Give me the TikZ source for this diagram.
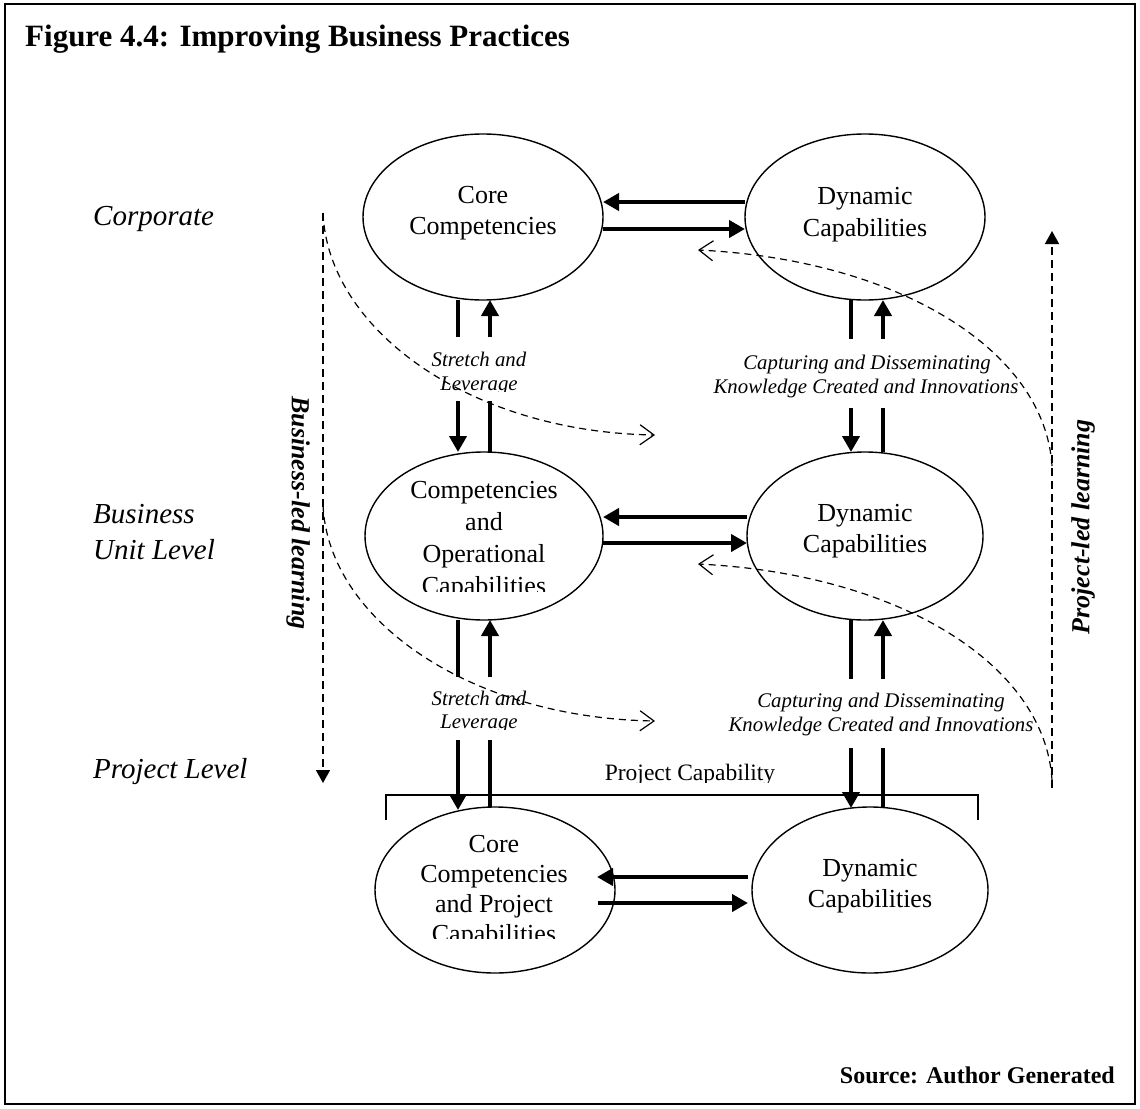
\documentclass[tikz,border=0pt]{standalone}
\usepackage{fontspec}
\setmainfont{Liberation Serif}
\usetikzlibrary{arrows.meta,shapes.geometric}
\begin{document}
\begin{tikzpicture}[x=1pt,y=-1pt,
  ell/.style={draw, ellipse, line width=1.4pt, inner sep=0pt, outer sep=0pt},
  etext/.style={font=\fontsize{26}{31}\selectfont, anchor=base, inner sep=0pt},
  lab/.style={font=\fontsize{20.8}{24}\selectfont\itshape, anchor=base, inner sep=0pt},
  lvl/.style={font=\fontsize{29}{36}\selectfont\itshape, anchor=base west, inner sep=0pt},
  rlab/.style={font=\fontsize{26}{30}\selectfont\bfseries\itshape, inner sep=0pt},
  bigarrow/.style={line width=4.2pt, -{Triangle[length=16pt,width=17pt]}},
  bigline/.style={line width=4.2pt},
  dashline/.style={line width=1.5pt, dash pattern=on 8pt off 5pt},
  dasharr/.style={dashline, -{Triangle[length=13pt,width=14pt]}},
  curvearr/.style={line width=1.2pt, dash pattern=on 7pt off 5pt, -{Straight Barb[length=14pt,width=20pt]}},
]
\useasboundingbox (0,0) rectangle (1140,1108);
\draw[line width=1.5pt] (5,4) rectangle (1135,1104);

% title and source
\node[anchor=base west, inner sep=0pt, font=\fontsize{31}{36}\selectfont\bfseries] (title) at (25,47) {Figure 4.4: Improving Business Practices};
\node[anchor=base east, inner sep=0pt, font=\fontsize{24}{28}\selectfont\bfseries] (src) at (1115,1083) {Source: Author Generated};

% level labels
\node[lvl] (lv1) at (93,225) {Corporate};
\node[lvl] (lv2a) at (93,523) {Business};
\node[lvl] (lv2b) at (93,559) {Unit Level};
\node[lvl] (lv3) at (93,778) {Project Level};

% ellipses
\node[ell, minimum width=240pt, minimum height=166pt] (cc1) at (483,217) {};
\node[ell, minimum width=240pt, minimum height=166pt] (dc1) at (865,217) {};
\node[ell, minimum width=238pt, minimum height=168pt] (cc2) at (484,536) {};
\node[ell, minimum width=236pt, minimum height=168pt] (dc2) at (865,536) {};
\node[ell, minimum width=240pt, minimum height=166pt] (cc3) at (495,890) {};
\node[ell, minimum width=236pt, minimum height=166pt] (dc3) at (870,890) {};

% ellipse texts
\node[etext] (t1a) at (483,203) {Core};
\node[etext] (t1b) at (483,234) {Competencies};
\node[etext] (t2a) at (865,204) {Dynamic};
\node[etext] (t2b) at (865,236) {Capabilities};
\node[etext] (t3a) at (484,498) {Competencies};
\node[etext] (t3b) at (484,530) {and};
\node[etext] (t3c) at (484,562) {Operational};
\begin{scope}
  \clip (380,560) rectangle (590,591);
  \node[etext] (t3d) at (484,594) {Capabilities};
\end{scope}
\node[etext] (t4a) at (865,521) {Dynamic};
\node[etext] (t4b) at (865,552) {Capabilities};
\node[etext] (t5a) at (494,852) {Core};
\node[etext] (t5b) at (494,882) {Competencies};
\node[etext] (t5c) at (494,912) {and Project};
\begin{scope}
  \clip (380,910) rectangle (610,938);
  \node[etext] (t5d) at (494,942) {Capabilities};
\end{scope}
\node[etext] (t6a) at (870,876) {Dynamic};
\node[etext] (t6b) at (870,907) {Capabilities};

% horizontal arrows
\draw[bigarrow] ([shift={(0,-15)}]dc1.west) -- ([shift={(0,-15)}]cc1.east);
\draw[bigarrow] ([shift={(0,12)}]cc1.east) -- ([shift={(0,12)}]dc1.west);
\draw[bigarrow] ([shift={(0,-19)}]dc2.west) -- ([shift={(0,-19)}]cc2.east);
\draw[bigarrow] ([shift={(0,7)}]cc2.east) -- ([shift={(0,7)}]dc2.west);
\draw[bigarrow] ([shift={(-4,-13)}]dc3.west) -- ([shift={(-18,-13)}]cc3.east);
\draw[bigarrow] ([shift={(-17,13)}]cc3.east) -- ([shift={(-4,13)}]dc3.west);

% gap coordinates for vertical arrows
\coordinate (g1a) at (458,337); \coordinate (g1b) at (490,337);
\coordinate (g1c) at (458,401); \coordinate (g1d) at (490,401);
\coordinate (g2a) at (851,339); \coordinate (g2b) at (883,339);
\coordinate (g2c) at (851,408); \coordinate (g2d) at (883,408);
\coordinate (g3a) at (458,677); \coordinate (g3b) at (490,677);
\coordinate (g3c) at (458,740); \coordinate (g3d) at (490,740);
\coordinate (g4a) at (851,679); \coordinate (g4b) at (883,679);
\coordinate (g4c) at (851,748); \coordinate (g4d) at (883,748);

% vertical arrows top-left
\draw[bigline] ([shift={(-25,0)}]cc1.south) -- (g1a);
\draw[bigarrow] (g1b) -- ([shift={(7,0)}]cc1.south);
\draw[bigarrow] (g1c) -- ([shift={(-26,0)}]cc2.north);
\draw[bigline] ([shift={(6,0)}]cc2.north) -- (g1d);
% top-right
\draw[bigline] ([shift={(-14,0)}]dc1.south) -- (g2a);
\draw[bigarrow] (g2b) -- ([shift={(18,0)}]dc1.south);
\draw[bigarrow] (g2c) -- ([shift={(-14,0)}]dc2.north);
\draw[bigline] ([shift={(18,0)}]dc2.north) -- (g2d);
% middle-left
\draw[bigline] ([shift={(-26,0)}]cc2.south) -- (g3a);
\draw[bigarrow] (g3b) -- ([shift={(6,0)}]cc2.south);
\draw[bigarrow] (g3c) -- ([shift={(-37,3)}]cc3.north);
\draw[bigline] ([shift={(-5,0)}]cc3.north) -- (g3d);
% middle-right
\draw[bigline] ([shift={(-14,0)}]dc2.south) -- (g4a);
\draw[bigarrow] (g4b) -- ([shift={(18,0)}]dc2.south);
\draw[bigarrow] (g4c) -- ([shift={(-19,1)}]dc3.north);
\draw[bigline] ([shift={(13,0)}]dc3.north) -- (g4d);

% arrow labels
\node[lab] (l1a) at (479,366) {Stretch and};
\begin{scope}
  \clip (400,370) rectangle (560,391);
  \node[lab] (l1b) at (479,390) {Leverage};
\end{scope}
\node[lab] (l2a) at (867,369) {Capturing and Disseminating};
\node[lab] (l2b) at (866,393) {Knowledge Created and Innovations};
\node[lab] (l3a) at (479,705) {Stretch and};
\begin{scope}
  \clip (400,710) rectangle (560,729);
  \node[lab] (l3b) at (479,728) {Leverage};
\end{scope}
\node[lab] (l4a) at (881,707) {Capturing and Disseminating};
\node[lab] (l4b) at (881,731) {Knowledge Created and Innovations};

% project capability bracket
\coordinate (pc1) at (386,820); \coordinate (pc2) at (386,795);
\coordinate (pc3) at (978,795); \coordinate (pc4) at (978,820);
\draw[line width=1.2pt] (pc1) -- (pc2) -- (pc3) -- (pc4);
\begin{scope}
  \clip (560,760) rectangle (820,782);
  \node[anchor=base, inner sep=0pt, font=\fontsize{23.5}{28}\selectfont] (pcl) at (690,780) {Project Capability};
\end{scope}

% learning arrows
\coordinate (bl1) at (323,213); \coordinate (bl2) at (323,783);
\draw[dasharr] (bl1) -- (bl2);
\coordinate (pl1) at (1052,788); \coordinate (pl2) at (1052,231);
\draw[dasharr] (pl1) -- (pl2);
\node[rlab, rotate=-90] (blab) at (298,513) {Business-led learning};
\node[rlab, rotate=90] (plab) at (1083,527) {Project-led learning};

% dashed curves
\coordinate (c1s) at (323,213); \coordinate (c1e) at (655,435);
\coordinate (c2s) at (323,505); \coordinate (c2e) at (655,721);
\coordinate (c3s) at (1052,466); \coordinate (c3e) at (698,250);
\coordinate (c4s) at (1052,780); \coordinate (c4e) at (698,564);
\draw[curvearr] (c1s) .. controls (328,330) and (470,432) .. (c1e);
\draw[curvearr] (c2s) .. controls (328,620) and (470,718) .. (c2e);
\draw[curvearr] (c3s) .. controls (1045,351) and (900,260) .. (c3e);
\draw[curvearr] (c4s) .. controls (1045,665) and (900,574) .. (c4e);
\end{tikzpicture}
\end{document}
